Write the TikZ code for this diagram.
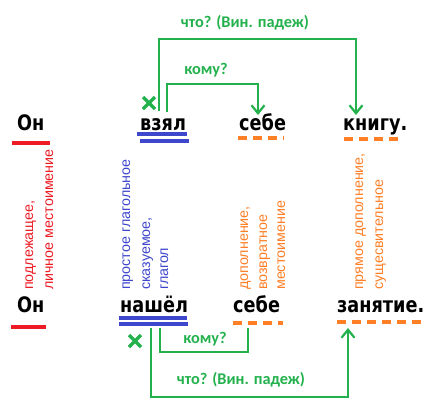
\documentclass[tikz,border=0pt]{standalone}
\usepackage{fontspec}
\setmainfont{Liberation Sans}
\newfontfamily\wordfont{DejaVu Sans}[FakeStretch=0.83]
\newfontfamily\qfont{Carlito}
\usetikzlibrary{arrows.meta}
\definecolor{pgreen}{HTML}{22B14C}
\definecolor{pblue}{HTML}{3F48CC}
\definecolor{pred}{HTML}{ED1C24}
\definecolor{porange}{HTML}{FF7F27}
\tikzset{
  word/.style={font=\wordfont\bfseries\fontsize{21.3}{21.3}\selectfont, inner sep=0pt, anchor=base west},
  qlabel/.style={font=\qfont\bfseries\fontsize{16.3}{16.3}\selectfont, text=pgreen, inner sep=0pt},
  vtext/.style={font=\fontsize{14.3}{14.3}\selectfont, inner sep=0pt, anchor=base west, rotate=90},
  conn/.style={draw=pgreen, line width=2.4pt},
  arr/.style={-{Straight Barb[length=8pt,width=13pt,line width=2.2pt]}},
  subj/.style={draw=pred, line width=3.6pt},
  pred/.style={draw=pblue, line width=3.3pt},
  obj/.style={draw=porange, line width=3.3pt, dash pattern=on 9pt off 6pt},
  cross/.style={draw=pgreen, line width=3.2pt},
}
\begin{document}
\begin{tikzpicture}[x=1pt,y=-1pt]
\useasboundingbox (0,0) rectangle (434,418);
% top row
\node[word] (on1) at (17,130) {Он};
\node[word] (vz) at (140,130) {взял};
\node[word] (sb1) at (239,130) {себе};
\node[word] (kn) at (343,130) {книгу.};
% bottom row
\node[word] (on2) at (17,312) {Он};
\node[word] (na) at (120,312) {нашёл};
\node[word] (sb2) at (233,312) {себе};
\node[word] (za) at (337,312) {занятие.};
% underlines
\draw[subj] (12,143) -- (50,143);
\draw[subj] (11,327) -- (46,327);
\draw[pred] (137,134) -- (187,134);
\draw[pred] (140,141) -- (189,141);
\draw[pred] (119,318) -- (187,318);
\draw[pred] (119,324) -- (188,324);
\draw[obj] (238,138) -- (284,138);
\draw[obj] (344,139) -- (399,139);
\draw[obj] (233,323) -- (283,323);
\draw[obj] (337,322) -- (421,322);
% vertical descriptions
\node[vtext, text=pred] (r1) at (33,290) {подлежащее,};
\node[vtext, text=pred] (r2) at (53,290) {личное местоимение};
\node[vtext, text=pblue] (b1) at (130,290) {простое глагольное};
\node[vtext, text=pblue] (b2) at (150,290) {сказуемое,};
\node[vtext, text=pblue] (b3) at (168,290) {глагол};
\node[vtext, text=porange] (o1) at (248,290) {дополнение,};
\node[vtext, text=porange] (o2) at (267,290) {возвратное};
\node[vtext, text=porange] (o3) at (285,290) {местоимение};
\node[vtext, text=porange] (p1) at (363,290) {прямое дополнение,};
\node[vtext, text=porange] (p2) at (383,290) {сущесвительное};
% top connectors
\coordinate (ta) at (159,111);
\coordinate (tb) at (356,115);
\coordinate (tl1) at (0,39);
\coordinate (tc) at (167,112);
\coordinate (td) at (258,115);
\coordinate (tl2) at (0,84);
\draw[conn, arr] (ta) -- (ta |- tl1) -| (tb);
\draw[conn, arr] (tc) -- (tc |- tl2) -| (td);
\node[qlabel] (q1) at (245,23) {что? (Вин. падеж)};
\node[qlabel] (q2) at (206,70) {кому?};
% bottom connectors
\coordinate (ba) at (151,328);
\coordinate (bb) at (348,328);
\coordinate (bl1) at (0,397);
\coordinate (bc) at (160,328);
\coordinate (bd) at (248,328);
\coordinate (bl2) at (0,352);
\draw[conn, arr] (ba) -- (ba |- bl1) -| (bb);
\draw[conn] (bc) -- (bc |- bl2) -| (bd);
\node[qlabel] (q3) at (205,339) {кому?};
\node[qlabel] (q4) at (241,380) {что? (Вин. падеж)};
% crosses
\draw[cross] (143,97) -- (155,109) (155,97) -- (143,109);
\draw[cross] (129,335) -- (141,347) (141,335) -- (129,347);
\end{tikzpicture}
\end{document}
